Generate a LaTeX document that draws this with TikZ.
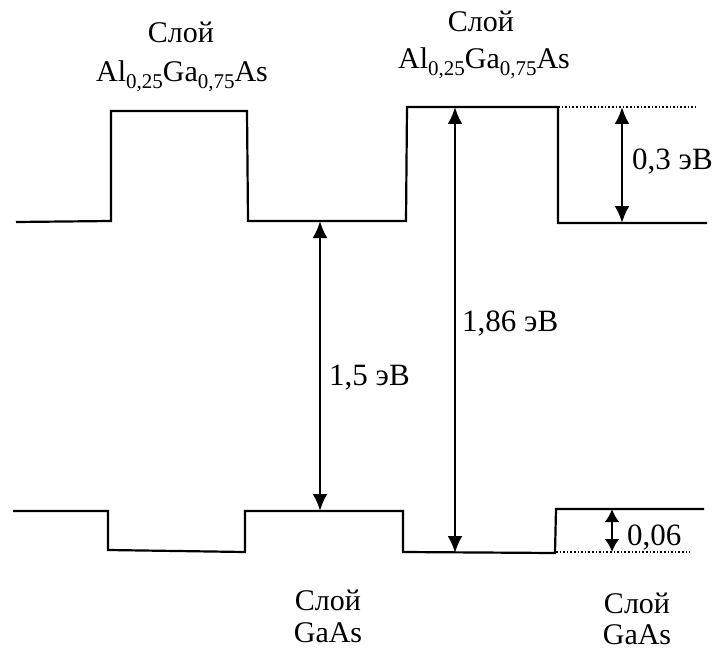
\documentclass[tikz,border=0pt]{standalone}
\usepackage{fontspec}
\setmainfont{Liberation Serif}
\usetikzlibrary{arrows.meta}
\newcommand\lowsub[1]{\raisebox{-0.22em}{\fontsize{21}{21}\selectfont #1}}
\begin{document}
\begin{tikzpicture}[x=1pt,y=-1pt,
  band/.style={line width=2.2pt,line join=miter},
  guide/.style={line width=1.6pt,dotted},
  dim/.style={line width=2.6pt,{Latex[length=17pt,width=15pt]}-{Latex[length=17pt,width=15pt]}},
  lbl/.style={font=\fontsize{31}{34}\selectfont,inner sep=0pt,anchor=base west},
  layer/.style={font=\fontsize{30}{34}\selectfont,inner sep=0pt,anchor=base}]
\useasboundingbox (0,0) rectangle (717,655);
% conduction band
\draw[band] (16,222) -- (111,221) -- (111,111) -- (247,111) -- (248,221)
  -- (406,221) -- (407,107) -- (558,107) -- (558,223) -- (707,223);
% valence band
\draw[band] (13,511) -- (108,511) -- (108,550) -- (245,552) -- (245,511)
  -- (403,511) -- (403,552) -- (555,553) -- (556,509) -- (704,509);
% dotted guides
\draw[guide] (558,107) -- (697,107);
\draw[guide] (556,552) -- (690,552);
% coordinates for arrows
\coordinate (a1t) at (320,221);
\coordinate (a1b) at (320,511);
\coordinate (a2t) at (455,107);
\coordinate (a2b) at (455,553);
\coordinate (a3t) at (622,107);
\coordinate (a3b) at (622,223);
\coordinate (a4t) at (612,509);
\coordinate (a4b) at (612,552);
\draw[dim] (a1t) -- (a1b);
\draw[dim] (a2t) -- (a2b);
\draw[dim] (a3t) -- (a3b);
\draw[line width=2.6pt,{Latex[length=13pt,width=15pt]}-{Latex[length=13pt,width=15pt]}] (a4t) -- (a4b);
% labels
\node[lbl] (l15) at (329,385) {1,5 эВ};
\node[lbl] (l186) at (462,331) {1,86 эВ};
\node[lbl] (l03) at (632,170) {0,3 эВ};
\node[lbl] (l006) at (627,545) {0,06};
\node[layer] (t1a) at (181,43) {Слой};
\node[layer] (t1b) at (182,82) {Al\lowsub{0,25}Ga\lowsub{0,75}As};
\node[layer] (t2a) at (481,32) {Слой};
\node[layer] (t2b) at (484,69) {Al\lowsub{0,25}Ga\lowsub{0,75}As};
\node[layer] (b1a) at (328,610) {Слой};
\node[layer] (b1b) at (328,642) {GaAs};
\node[layer] (b2a) at (637,613) {Слой};
\node[layer] (b2b) at (637,644) {GaAs};
\end{tikzpicture}
\end{document}
